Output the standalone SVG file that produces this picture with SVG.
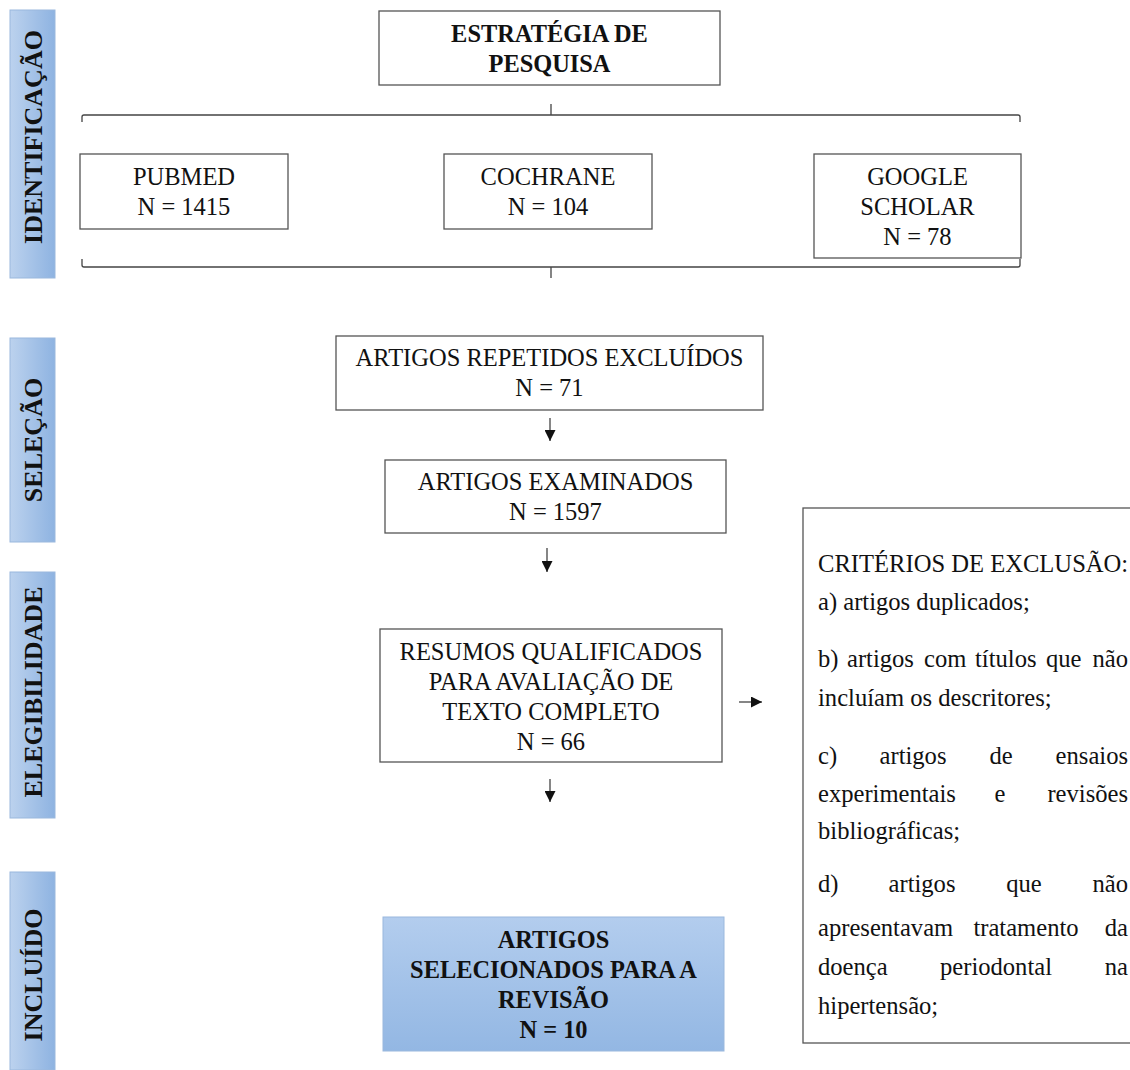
<svg xmlns="http://www.w3.org/2000/svg" width="1130" height="1070" viewBox="0 0 1130 1070">
<style>
.box{fill:#fff;stroke:#555;stroke-width:1.3}
.t{font-family:"Liberation Serif","Times New Roman",serif;font-size:24.5px;fill:#111;text-anchor:middle}
.b{font-weight:bold;font-size:24.4px}
.side{fill:url(#sg);stroke:#9ab8dd;stroke-width:1}
.st{font-family:"Liberation Serif","Times New Roman",serif;font-size:26px;font-weight:bold;fill:#111;text-anchor:middle}
.line{fill:none;stroke:#444;stroke-width:1.3}
.ex{font-family:"Liberation Serif","Times New Roman",serif;font-size:24.6px;fill:#111}
.m{text-anchor:middle}
.e{text-anchor:end}
</style>
<defs>
<linearGradient id="sg" x1="0" y1="0" x2="1" y2="0">
<stop offset="0" stop-color="#bcd2ee"/>
<stop offset="1" stop-color="#8eb3e1"/>
</linearGradient>
<linearGradient id="fg" x1="0" y1="0" x2="0" y2="1">
<stop offset="0" stop-color="#b3cdee"/>
<stop offset="1" stop-color="#93b7e3"/>
</linearGradient>
<marker id="ah" viewBox="0 0 10 10" refX="10" refY="5" markerWidth="11" markerHeight="11" markerUnits="userSpaceOnUse" orient="auto">
<path d="M0,0 L10,5 L0,10 z" fill="#111"/>
</marker>
</defs>

<g id="stage-identificacao">
<rect class="side" x="10" y="10" width="45" height="268"/>
<text class="st" transform="translate(42,137) rotate(-90)">IDENTIFICAÇÃO</text>
</g>
<g id="stage-selecao">
<rect class="side" x="10" y="338" width="45" height="204"/>
<text class="st" transform="translate(42,440) rotate(-90)">SELEÇÃO</text>
</g>
<g id="stage-elegibilidade">
<rect class="side" x="10" y="572" width="45" height="246"/>
<text class="st" transform="translate(42,692) rotate(-90)">ELEGIBILIDADE</text>
</g>
<g id="stage-incluido">
<rect class="side" x="10" y="872" width="45" height="198"/>
<text class="st" transform="translate(42,975) rotate(-90)">INCLUÍDO</text>
</g>

<g id="estrategia">
<rect class="box" x="379" y="11" width="341" height="74"/>
<text class="t b" x="549.5" y="42">ESTRATÉGIA DE</text>
<text class="t b" x="549.5" y="72">PESQUISA</text>
</g>

<g id="pubmed">
<rect class="box" x="80" y="154" width="208" height="75"/>
<text class="t" x="184" y="185">PUBMED</text>
<text class="t" x="184" y="215">N = 1415</text>
</g>
<g id="cochrane">
<rect class="box" x="444" y="154" width="208" height="75"/>
<text class="t" x="548" y="185">COCHRANE</text>
<text class="t" x="548" y="215">N = 104</text>
</g>
<g id="google">
<rect class="box" x="814" y="154" width="207" height="104"/>
<text class="t" x="917.5" y="185">GOOGLE</text>
<text class="t" x="917.5" y="215">SCHOLAR</text>
<text class="t" x="917.5" y="245">N = 78</text>
</g>

<g id="repetidos">
<rect class="box" x="336" y="336" width="427" height="74"/>
<text class="t" x="549.5" y="366">ARTIGOS REPETIDOS EXCLUÍDOS</text>
<text class="t" x="549.5" y="396">N = 71</text>
</g>
<g id="examinados">
<rect class="box" x="385" y="460" width="341" height="73"/>
<text class="t" x="555.5" y="490">ARTIGOS EXAMINADOS</text>
<text class="t" x="555.5" y="520">N = 1597</text>
</g>
<g id="resumos">
<rect class="box" x="380" y="629" width="342" height="133"/>
<text class="t" x="551" y="660">RESUMOS QUALIFICADOS</text>
<text class="t" x="551" y="690">PARA AVALIAÇÃO DE</text>
<text class="t" x="551" y="720">TEXTO COMPLETO</text>
<text class="t" x="551" y="750">N = 66</text>
</g>
<g id="selecionados">
<rect x="383" y="917" width="341" height="134" fill="url(#fg)" stroke="#9ab8dd" stroke-width="1"/>
<text class="t b" x="553.5" y="948">ARTIGOS</text>
<text class="t b" x="553.5" y="978">SELECIONADOS PARA A</text>
<text class="t b" x="553.5" y="1008">REVISÃO</text>
<text class="t b" x="553.5" y="1038">N = 10</text>
</g>

<g id="exclusao">
<rect class="box" x="803" y="508" width="340" height="535"/>
<text class="ex" x="818" y="572">CRITÉRIOS DE EXCLUSÃO:</text>
<text class="ex" x="818" y="610">a) artigos duplicados;</text>
<text class="ex" x="818" y="667">b)</text>
<text class="ex" x="847" y="667">artigos</text>
<text class="ex" x="924" y="667">com</text>
<text class="ex" x="975" y="667">títulos</text>
<text class="ex" x="1046" y="667">que</text>
<text class="ex e" x="1128" y="667">não</text>
<text class="ex" x="818" y="706">incluíam os descritores;</text>
<text class="ex" x="818" y="764">c)</text>
<text class="ex m" x="913" y="764">artigos</text>
<text class="ex m" x="1001" y="764">de</text>
<text class="ex e" x="1128" y="764">ensaios</text>
<text class="ex" x="818" y="802">experimentais</text>
<text class="ex m" x="1000" y="802">e</text>
<text class="ex e" x="1128" y="802">revisões</text>
<text class="ex" x="818" y="839">bibliográficas;</text>
<text class="ex" x="818" y="892">d)</text>
<text class="ex m" x="922" y="892">artigos</text>
<text class="ex m" x="1024" y="892">que</text>
<text class="ex e" x="1128" y="892">não</text>
<text class="ex" x="818" y="936">apresentavam</text>
<text class="ex m" x="1026" y="936">tratamento</text>
<text class="ex e" x="1128" y="936">da</text>
<text class="ex" x="818" y="975">doença</text>
<text class="ex m" x="996" y="975">periodontal</text>
<text class="ex e" x="1128" y="975">na</text>
<text class="ex" x="818" y="1014">hipertensão;</text>
</g>

<g id="connectors">
<path class="line" d="M82,122 L82,117 Q82,115 84,115 L1018,115 Q1020,115 1020,117 L1020,122 M551,115 L551,104"/>
<path class="line" d="M82,259 L82,265 Q82,267 84,267 L1018,267 Q1020,267 1020,265 L1020,259 M551,267 L551,278"/>
<line class="line" x1="550" y1="418" x2="550" y2="441" marker-end="url(#ah)"/>
<line class="line" x1="547" y1="548" x2="547" y2="572" marker-end="url(#ah)"/>
<line class="line" x1="739" y1="702" x2="762" y2="702" marker-end="url(#ah)"/>
<line class="line" x1="550" y1="779" x2="550" y2="802" marker-end="url(#ah)"/>
</g>
</svg>
